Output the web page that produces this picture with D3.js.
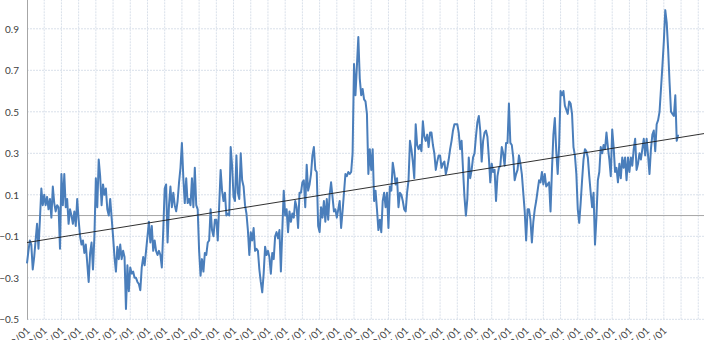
<!DOCTYPE html>
<html><head><meta charset="utf-8">
<script src="https://cdn.jsdelivr.net/npm/d3@7"></script>
<style>body{margin:0;background:#fff}svg{display:block}</style>
</head><body><svg id="c" width="720" height="340"></svg>
<script>
// x tick labels (one every 12 monthly categories, starting at category 0)
const tickLabels = ["1979/01","1980/01","1981/01","1982/01","1983/01","1984/01","1985/01","1986/01","1987/01","1988/01",
  "1989/01","1990/01","1991/01","1992/01","1993/01","1994/01","1995/01","1996/01","1997/01","1998/01",
  "1999/01","2000/01","2001/01","2002/01","2003/01","2004/01","2005/01","2006/01","2007/01","2008/01",
  "2009/01","2010/01","2011/01","2012/01","2013/01","2014/01","2015/01","2016/01"];
const yTicks = [-0.5, -0.3, -0.1, 0.1, 0.3, 0.5, 0.7, 0.9];
// monthly anomaly values, one row per year
const anomaly = [
  -0.23,-0.17,-0.12,-0.14,-0.26,-0.20,-0.12,-0.04,-0.16,-0.02,0.13,0.05,
  0.10,0.05,0.09,0.03,0.08,-0.01,0.14,0.06,0.02,0.05,0.04,-0.16,
  0.20,0.05,0.20,0.04,0.08,-0.04,0.03,0.00,-0.04,0.02,-0.05,0.08,
  -0.02,-0.10,-0.14,-0.12,-0.18,-0.14,-0.23,-0.32,-0.18,-0.13,-0.26,-0.10,
  0.18,0.04,0.27,0.19,0.05,0.15,0.10,0.13,0.03,0.00,0.08,-0.01,
  -0.10,-0.20,-0.27,-0.15,-0.21,-0.14,-0.21,-0.17,-0.20,-0.45,-0.24,-0.365,
  -0.25,-0.28,-0.27,-0.30,-0.30,-0.32,-0.33,-0.36,-0.25,-0.20,-0.24,-0.17,
  -0.10,-0.03,-0.13,-0.05,-0.17,-0.12,-0.17,-0.19,-0.17,-0.19,-0.25,-0.07,
  0.13,0.15,-0.13,0.05,0.14,0.04,0.11,0.05,0.02,0.07,0.16,0.23,
  0.35,0.18,0.06,0.18,0.06,0.08,0.05,0.18,0.04,0.23,0.05,0.03,
  -0.17,-0.29,-0.21,-0.27,-0.18,-0.19,-0.13,-0.12,0.03,-0.07,-0.10,-0.02,
  -0.02,-0.12,0.05,0.22,0.12,0.07,0.11,0.00,0.01,0.00,0.33,0.24,
  0.09,0.07,0.29,0.11,0.08,0.30,0.17,0.14,0.05,0.01,-0.07,-0.19,
  -0.08,-0.12,-0.06,-0.17,-0.16,-0.17,-0.26,-0.32,-0.37,-0.28,-0.15,-0.19,
  -0.17,-0.20,-0.28,-0.18,-0.21,-0.10,-0.08,-0.11,-0.07,-0.27,-0.07,0.12,
  0.00,0.03,-0.08,0.02,-0.03,0.01,-0.01,0.07,0.04,-0.06,0.11,0.11,
  0.16,0.17,0.04,0.245,0.12,0.15,0.20,0.29,0.33,0.22,0.21,-0.05,
  -0.08,0.04,-0.01,0.07,-0.03,0.08,-0.02,0.10,0.16,0.09,0.02,0.03,
  -0.01,0.03,0.07,-0.06,0.02,0.11,0.20,0.19,0.21,0.20,0.21,0.30,
  0.73,0.58,0.72,0.86,0.66,0.58,0.61,0.56,0.55,0.49,0.20,0.32,
  0.22,0.32,0.07,0.12,0.03,-0.07,-0.02,-0.08,0.07,0.11,0.04,0.11,
  -0.06,0.14,0.12,0.255,0.21,0.15,0.18,0.04,0.11,0.10,0.07,0.03,
  0.02,0.11,0.17,0.36,0.32,0.26,0.18,0.44,0.34,0.32,0.34,0.31,
  0.455,0.38,0.36,0.39,0.33,0.40,0.40,0.34,0.30,0.22,0.26,0.29,
  0.29,0.23,0.25,0.26,0.20,0.23,0.27,0.32,0.36,0.41,0.44,0.44,
  0.44,0.40,0.32,0.36,0.22,0.09,0.00,0.08,0.28,0.18,0.22,0.28,
  0.30,0.38,0.45,0.48,0.41,0.26,0.36,0.40,0.41,0.38,0.28,0.16,
  0.25,0.21,0.22,0.07,0.19,0.23,0.24,0.33,0.30,0.24,0.35,0.35,
  0.54,0.35,0.34,0.28,0.17,0.20,0.22,0.29,0.25,0.20,0.11,0.02,
  -0.12,0.03,0.03,-0.02,-0.13,-0.03,0.03,0.07,0.12,0.17,0.16,0.21,
  0.15,0.20,0.14,0.15,0.16,0.02,0.22,0.39,0.47,0.31,0.20,0.34,
  0.60,0.58,0.60,0.53,0.51,0.49,0.55,0.54,0.49,0.33,0.29,0.20,
  0.03,-0.035,0.06,0.17,0.27,0.32,0.31,0.28,0.19,0.11,0.04,0.11,
  -0.14,-0.01,0.17,0.21,0.33,0.30,0.34,0.32,0.40,0.33,0.27,0.19,
  0.415,0.33,0.21,0.23,0.16,0.25,0.18,0.28,0.23,0.28,0.17,0.28,
  0.21,0.28,0.24,0.32,0.37,0.22,0.25,0.30,0.27,0.32,0.37,0.29,
  0.37,0.29,0.20,0.32,0.39,0.41,0.31,0.44,0.46,0.50,0.61,0.72,
  0.84,0.99,0.93,0.80,0.64,0.50,0.49,0.48,0.58,0.36,0.39
];
// linear trend line end points (category index, value)
const trendIdx = [0, 472];
const trendVal = [-0.13, 0.395];
const lastCategory = 472;
const monthsPerTick = 12;

const svg = d3.select("#c");
const x = d3.scaleLinear().domain([0, lastCategory]).range([27, 704]);
const y = d3.scaleLinear().domain([-0.5, 1.1]).range([319.3, 319.3 - 1.6 * 207.5]);

const gridIdx = d3.range(0, lastCategory + 1, monthsPerTick);
const grid = svg.append("g");
grid.selectAll("line.v").data(gridIdx.slice(1)).join("line")
  .attr("x1", d => x(d)).attr("x2", d => x(d))
  .attr("y1", y(-0.5)).attr("y2", y(1.1))
  .attr("stroke", "#d9e0ea").attr("stroke-width", 1).attr("stroke-dasharray", "2,1");
grid.selectAll("line.h").data(yTicks).join("line")
  .attr("x1", x(0)).attr("x2", x(lastCategory))
  .attr("y1", d => y(d)).attr("y2", d => y(d))
  .attr("stroke", "#d9e0ea").attr("stroke-width", 1).attr("stroke-dasharray", "2,1");

// zero (category) axis line
svg.append("line").attr("x1", x(0)).attr("x2", x(lastCategory))
  .attr("y1", y(0)).attr("y2", y(0)).attr("stroke", "#a6a6a6").attr("stroke-width", 1);

// y axis
const yAxis = svg.append("g").attr("transform", `translate(${x(0)},0)`)
  .call(d3.axisLeft(y).tickValues(yTicks).tickFormat(d3.format(".1f")).tickSize(0).tickPadding(8));
yAxis.select(".domain").attr("stroke", "#a6a6a6");
yAxis.selectAll("text").attr("font-family", "Lato, 'Open Sans', sans-serif").attr("font-size", 10).attr("fill", "#404040");

// x labels
const xAxis = svg.append("g").attr("transform", `translate(0,${y(-0.5)})`)
  .call(d3.axisBottom(x).tickValues(gridIdx.slice(0, tickLabels.length))
    .tickFormat((d, i) => tickLabels[i]).tickSize(0));
xAxis.select(".domain").remove();
xAxis.selectAll("text")
  .attr("font-family", "Lato, 'Open Sans', sans-serif").attr("font-size", 10).attr("fill", "#404040")
  .attr("text-anchor", "end").attr("dy", 0).attr("y", 0)
  .attr("transform", "translate(3,12) rotate(-45)");

// data line
const line = d3.line().x((d, i) => x(i)).y(d => y(d));
svg.append("path").datum(anomaly).attr("d", line)
  .attr("fill", "none").attr("stroke", "#4a7ebb").attr("stroke-width", 2).attr("stroke-linejoin", "round");

// trend line
const tline = d3.line().x(d => x(d[0])).y(d => y(d[1]));
svg.append("path").datum(trendIdx.map((d, i) => [d, trendVal[i]])).attr("d", tline)
  .attr("fill", "none").attr("stroke", "#1a1a1a").attr("stroke-width", 0.9);
</script></body></html>
